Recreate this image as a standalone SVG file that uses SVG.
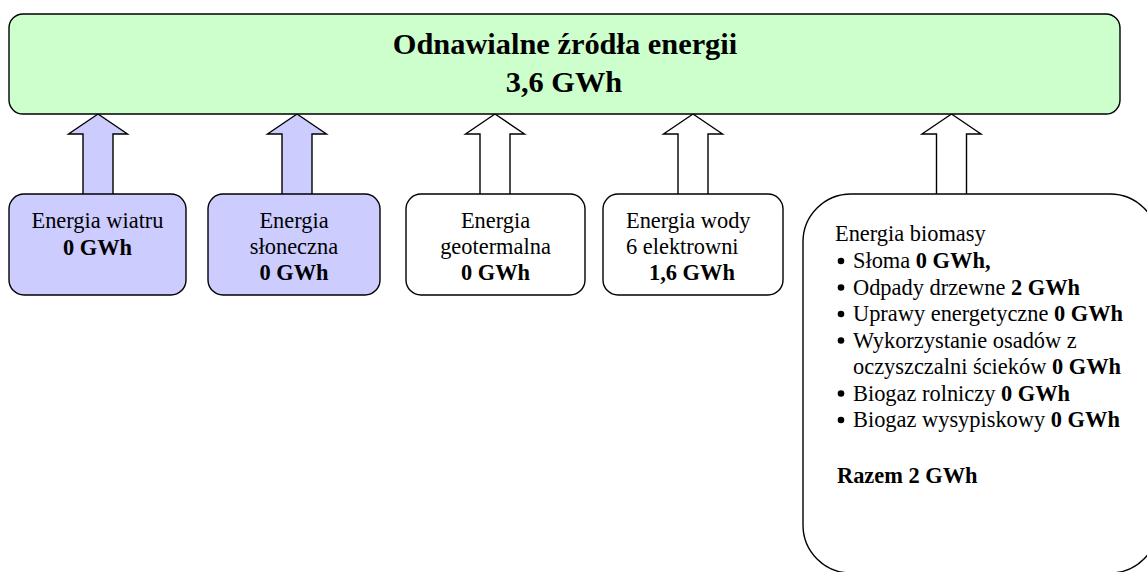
<svg xmlns="http://www.w3.org/2000/svg" width="1147" height="572" viewBox="0 0 1147 572">
  <style>
    .box { stroke: #000; stroke-width: 1.4; }
    .green { fill: #CCFFCC; }
    .blue { fill: #CCCCFF; }
    .white { fill: #FFFFFF; }
    .arrow { stroke: #000; stroke-width: 1.4; stroke-linejoin: miter; }
    .t { font-family: 'Liberation Serif', 'Times New Roman', Tinos, 'DejaVu Serif', serif; font-size: 22.4px; fill: #000; }
    .title { font-size: 30.4px; font-weight: bold; }
    .c { text-anchor: middle; }
    .b { font-weight: bold; }
  </style>
  <defs>
    <circle id="dot" r="3.3" fill="#000"/>
  </defs>
  <rect width="1147" height="572" fill="#FFFFFF"/>

  <!-- block arrows pointing up into the total box -->
  <g id="connectors">
    <path class="arrow blue" d="M98 114 L127.5 134 L113 134 L113 195 L83 195 L83 134 L68.5 134 Z"/>
    <path class="arrow blue" d="M297 114 L326.5 134 L312 134 L312 195 L282 195 L282 134 L267.5 134 Z"/>
    <path class="arrow white" d="M495 114 L524.5 134 L510 134 L510 195 L480 195 L480 134 L465.5 134 Z"/>
    <path class="arrow white" d="M693 114 L722.5 134 L708 134 L708 195 L678 195 L678 134 L663.5 134 Z"/>
    <path class="arrow white" d="M951.5 114 L981 134 L966.5 134 L966.5 195 L936.5 195 L936.5 134 L922 134 Z"/>
  </g>

  <g class="t">
    <g id="total">
      <rect class="box green" x="9" y="14" width="1111" height="100" rx="14" ry="14"/>
      <text class="title c" x="565" y="54">Odnawialne źródła energii</text>
      <text class="title c" x="564" y="92">3,6 GWh</text>
    </g>

    <g id="wind">
      <rect class="box blue" x="9" y="194" width="177" height="101" rx="15" ry="15"/>
      <text class="c" x="97.5" y="228">Energia wiatru</text>
      <text class="c b" x="97.5" y="255">0 GWh</text>
    </g>

    <g id="solar">
      <rect class="box blue" x="208" y="194" width="172" height="101" rx="15" ry="15"/>
      <text class="c" x="294" y="228">Energia</text>
      <text class="c" x="294" y="254">słoneczna</text>
      <text class="c b" x="294" y="280">0 GWh</text>
    </g>

    <g id="geothermal">
      <rect class="box white" x="406" y="194" width="179" height="101" rx="15" ry="15"/>
      <text class="c" x="495.5" y="228">Energia</text>
      <text class="c" x="495.5" y="254">geotermalna</text>
      <text class="c b" x="495.5" y="280">0 GWh</text>
    </g>

    <g id="water">
      <rect class="box white" x="603" y="194" width="180" height="101" rx="15" ry="15"/>
      <text x="626" y="228">Energia wody</text>
      <text x="626" y="254">6 elektrowni</text>
      <text class="b" x="649" y="280">1,6 GWh</text>
    </g>

    <g id="biomass">
      <rect class="box white" x="803" y="194" width="355" height="379" rx="48" ry="48"/>
      <text x="835" y="241">Energia biomasy</text>
      <!-- list bullets -->
      <use href="#dot" x="841" y="261"/>
      <use href="#dot" x="841" y="287.5"/>
      <use href="#dot" x="841" y="314"/>
      <use href="#dot" x="841" y="340.5"/>
      <use href="#dot" x="841" y="393.5"/>
      <use href="#dot" x="841" y="420"/>
      <text x="853" y="268">Słoma <tspan class="b">0 GWh,</tspan></text>
      <text x="853" y="294.5">Odpady drzewne <tspan class="b">2 GWh</tspan></text>
      <text x="853" y="321">Uprawy energetyczne <tspan class="b">0 GWh</tspan></text>
      <text x="853" y="347.5">Wykorzystanie osadów z</text>
      <text x="853" y="374">oczyszczalni ścieków <tspan class="b">0 GWh</tspan></text>
      <text x="853" y="400.5">Biogaz rolniczy <tspan class="b">0 GWh</tspan></text>
      <text x="853" y="427">Biogaz wysypiskowy <tspan class="b">0 GWh</tspan></text>
      <text class="b" x="837" y="483">Razem 2 GWh</text>
    </g>
  </g>
</svg>
